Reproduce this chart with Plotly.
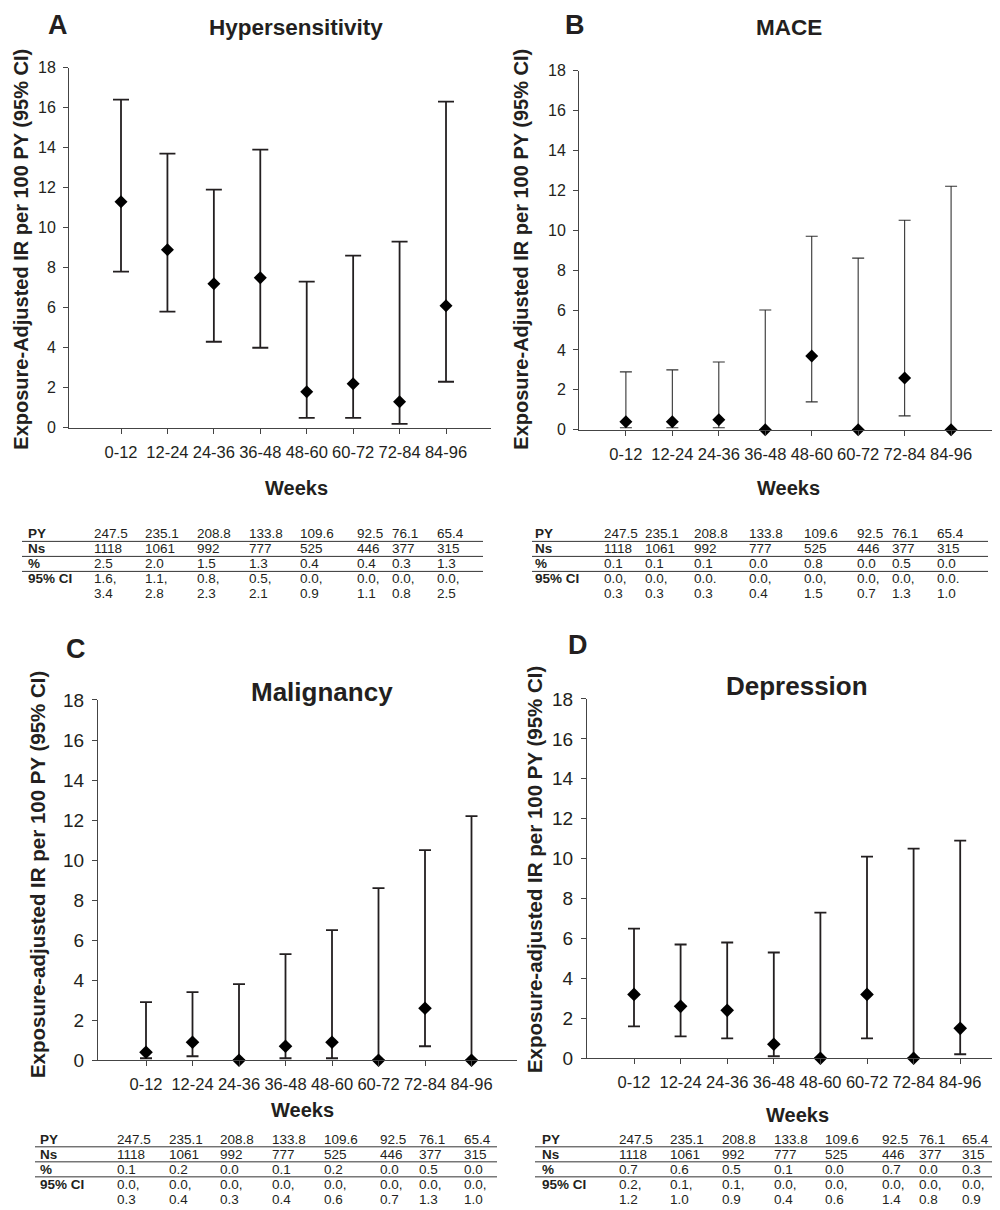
import plotly.graph_objects as go

# ---------------- data ----------------
weeks = ["0-12", "12-24", "24-36", "36-48", "48-60", "60-72", "72-84", "84-96"]

hyper_ir = [11.3, 8.9, 7.2, 7.5, 1.8, 2.2, 1.3, 6.1]
hyper_lo = [7.8, 5.8, 4.3, 4.0, 0.5, 0.5, 0.2, 2.3]
hyper_hi = [16.4, 13.7, 11.9, 13.9, 7.3, 8.6, 9.3, 16.3]

mace_ir = [0.4, 0.4, 0.5, 0.0, 3.7, 0.0, 2.6, 0.0]
mace_lo = [0.1, 0.1, 0.1, 0.0, 1.4, 0.0, 0.7, 0.0]
mace_hi = [2.9, 3.0, 3.4, 6.0, 9.7, 8.6, 10.5, 12.2]

malig_ir = [0.4, 0.9, 0.0, 0.7, 0.9, 0.0, 2.6, 0.0]
malig_lo = [0.1, 0.2, 0.0, 0.1, 0.1, 0.0, 0.7, 0.0]
malig_hi = [2.9, 3.4, 3.8, 5.3, 6.5, 8.6, 10.5, 12.2]

dep_ir = [3.2, 2.6, 2.4, 0.7, 0.0, 3.2, 0.0, 1.5]
dep_lo = [1.6, 1.1, 1.0, 0.1, 0.0, 1.0, 0.0, 0.2]
dep_hi = [6.5, 5.7, 5.8, 5.3, 7.3, 10.1, 10.5, 10.9]

y_ticks = [0, 2, 4, 6, 8, 10, 12, 14, 16, 18]

row_labels = ["PY", "Ns", "%", "95% CI"]
py_vals = ["247.5", "235.1", "208.8", "133.8", "109.6", "92.5", "76.1", "65.4"]
ns_vals = ["1118", "1061", "992", "777", "525", "446", "377", "315"]

hyper_pct = ["2.5", "2.0", "1.5", "1.3", "0.4", "0.4", "0.3", "1.3"]
hyper_ci1 = ["1.6,", "1.1,", "0.8,", "0.5,", "0.0,", "0.0,", "0.0,", "0.0,"]
hyper_ci2 = ["3.4", "2.8", "2.3", "2.1", "0.9", "1.1", "0.8", "2.5"]

mace_pct = ["0.1", "0.1", "0.1", "0.0", "0.8", "0.0", "0.5", "0.0"]
mace_ci1 = ["0.0,", "0.0,", "0.0.", "0.0,", "0.0,", "0.0,", "0.0,", "0.0."]
mace_ci2 = ["0.3", "0.3", "0.3", "0.4", "1.5", "0.7", "1.3", "1.0"]

malig_pct = ["0.1", "0.2", "0.0", "0.1", "0.2", "0.0", "0.5", "0.0"]
malig_ci1 = ["0.0,", "0.0,", "0.0,", "0.0,", "0.0,", "0.0,", "0.0,", "0.0,"]
malig_ci2 = ["0.3", "0.4", "0.3", "0.4", "0.6", "0.7", "1.3", "1.0"]

dep_pct = ["0.7", "0.6", "0.5", "0.1", "0.0", "0.7", "0.0", "0.3"]
dep_ci1 = ["0.2,", "0.1,", "0.1,", "0.0,", "0.0,", "0.0,", "0.0,", "0.0,"]
dep_ci2 = ["1.2", "1.0", "0.9", "0.4", "0.6", "1.4", "0.8", "0.9"]

# ---------------- layout helpers ----------------
OFFX = 8                     # page body margin (horizontal)
OFFY, SY = 18.5, 0.982       # observed vertical placement of the figure in the page photo
W, H = 984, 1215
FONT = "Liberation Sans, Arial, sans-serif"
INK = "#231f20"


def px(x):
    return (x - OFFX) / W


def py(y):
    return 1 - ((y - OFFY) / SY) / H


panels = [
    dict(letter="A", title="Hypersensitivity", ir=hyper_ir, lo=hyper_lo, hi=hyper_hi,
         ytitle="Exposure-Adjusted IR per 100 PY (95% CI)",
         ax_left=69, ax_right=491, y_top=68, y_bot=428, cat0=121, step=46.43,
         tickfont=16, xtickfont=16.5, titlefont=22.5, ytitlefont=20, weeksfont=20,
         letter_xy=(58, 25), title_xy=(296, 28), ytitle_xy=(21, 250), weeks_xy=(296, 488),
         eb_w=8, eb_th=1.8, eb_col=INK, msize=10,
         tbl=dict(pct=hyper_pct, ci1=hyper_ci1, ci2=hyper_ci2, lab_x=26,
                  cols=[92, 143, 195, 247, 298, 355, 390, 435], y0=534, line_x=(22, 483))),
    dict(letter="B", title="MACE", ir=mace_ir, lo=mace_lo, hi=mace_hi,
         ytitle="Exposure-Adjusted IR per 100 PY (95% CI)",
         ax_left=579, ax_right=993, y_top=71, y_bot=430, cat0=626, step=46.57,
         tickfont=16, xtickfont=16.5, titlefont=22.5, ytitlefont=20, weeksfont=20,
         letter_xy=(575, 25), title_xy=(789, 28), ytitle_xy=(521, 250), weeks_xy=(788, 488),
         eb_w=6, eb_th=1.1, eb_col="#333333", msize=10,
         tbl=dict(pct=mace_pct, ci1=mace_ci1, ci2=mace_ci2, lab_x=533,
                  cols=[602, 643, 692, 747, 802, 855, 890, 935], y0=534, line_x=(532, 988))),
    dict(letter="C", title="Malignancy", ir=malig_ir, lo=malig_lo, hi=malig_hi,
         ytitle="Exposure-adjusted IR per 100 PY (95% CI)",
         ax_left=98, ax_right=517, y_top=700, y_bot=1060, cat0=146, step=46.5,
         tickfont=19, xtickfont=16.5, titlefont=26, ytitlefont=20.5, weeksfont=20,
         letter_xy=(76, 649), title_xy=(322, 692), ytitle_xy=(37, 875), weeks_xy=(302, 1110),
         eb_w=6, eb_th=1.8, eb_col=INK, msize=10.5,
         tbl=dict(pct=malig_pct, ci1=malig_ci1, ci2=malig_ci2, lab_x=38,
                  cols=[115, 167, 218, 270, 322, 378, 417, 462], y0=1139, line_x=(35, 497))),
    dict(letter="D", title="Depression", ir=dep_ir, lo=dep_lo, hi=dep_hi,
         ytitle="Exposure-adjusted IR per 100 PY (95% CI)",
         ax_left=587, ax_right=992, y_top=699, y_bot=1058, cat0=634, step=46.6,
         tickfont=19, xtickfont=16.5, titlefont=26, ytitlefont=20.5, weeksfont=20,
         letter_xy=(578, 645), title_xy=(797, 686), ytitle_xy=(534, 870), weeks_xy=(797, 1115),
         eb_w=6, eb_th=1.8, eb_col=INK, msize=10.5,
         tbl=dict(pct=dep_pct, ci1=dep_ci1, ci2=dep_ci2, lab_x=540,
                  cols=[617, 668, 720, 772, 823, 880, 917, 960], y0=1139, line_x=(535, 992))),
]

fig = go.Figure()
annotations = []
shapes = []
layout_axes = {}

for i, p in enumerate(panels):
    n = i + 1
    xa = "x" if n == 1 else f"x{n}"
    ya = "y" if n == 1 else f"y{n}"
    xname = "xaxis" if n == 1 else f"xaxis{n}"
    yname = "yaxis" if n == 1 else f"yaxis{n}"

    xs = list(range(len(weeks)))
    plus = [h - v for h, v in zip(p["hi"], p["ir"])]
    minus = [v - l for v, l in zip(p["ir"], p["lo"])]
    fig.add_trace(go.Scatter(
        x=xs, y=p["ir"], mode="markers", xaxis=xa, yaxis=ya, showlegend=False,
        cliponaxis=False,
        marker=dict(symbol="diamond", size=p["msize"], color="black"),
        error_y=dict(type="data", symmetric=False, array=plus, arrayminus=minus,
                     color=p["eb_col"], thickness=p["eb_th"], width=p["eb_w"]),
    ))

    xr0 = (p["ax_left"] - p["cat0"]) / p["step"]
    xr1 = (p["ax_right"] - p["cat0"]) / p["step"]
    layout_axes[xname] = dict(
        domain=[px(p["ax_left"]), min(1.0, px(p["ax_right"]))], anchor=ya,
        range=[xr0, xr1], tickmode="array", tickvals=xs, ticktext=weeks,
        showline=True, linecolor="#444", linewidth=1, ticks="outside", ticklen=5,
        tickcolor="#444", showgrid=False, zeroline=False,
        tickfont=dict(family=FONT, size=p["xtickfont"], color=INK),
        ticklabelstandoff=4, fixedrange=True,
    )
    layout_axes[yname] = dict(
        domain=[py(p["y_bot"]), py(p["y_top"])], anchor=xa,
        range=[0, 18], tickmode="array", tickvals=y_ticks,
        showline=True, linecolor="#444", linewidth=1, ticks="outside", ticklen=5,
        tickcolor="#444", showgrid=False, zeroline=False,
        tickfont=dict(family=FONT, size=p["tickfont"], color=INK),
        ticklabelstandoff=4, fixedrange=True,
    )

    # panel letter, title, axis titles
    annotations.append(dict(text=f"<b>{p['letter']}</b>", x=px(p["letter_xy"][0]), y=py(p["letter_xy"][1]),
                            xref="paper", yref="paper", showarrow=False, xanchor="center", yanchor="middle",
                            font=dict(family=FONT, size=27, color=INK)))
    annotations.append(dict(text=f"<b>{p['title']}</b>", x=px(p["title_xy"][0]), y=py(p["title_xy"][1]),
                            xref="paper", yref="paper", showarrow=False, xanchor="center", yanchor="middle",
                            font=dict(family=FONT, size=p["titlefont"], color=INK)))
    annotations.append(dict(text=f"<b>{p['ytitle']}</b>", x=px(p["ytitle_xy"][0]), y=py(p["ytitle_xy"][1]),
                            xref="paper", yref="paper", showarrow=False, xanchor="center", yanchor="middle",
                            textangle=-90, font=dict(family=FONT, size=p["ytitlefont"], color=INK)))
    annotations.append(dict(text="<b>Weeks</b>", x=px(p["weeks_xy"][0]), y=py(p["weeks_xy"][1]),
                            xref="paper", yref="paper", showarrow=False, xanchor="center", yanchor="middle",
                            font=dict(family=FONT, size=p["weeksfont"], color=INK)))

    # table below panel
    t = p["tbl"]
    rows = [py_vals, ns_vals, t["pct"], t["ci1"], t["ci2"]]
    labels = row_labels + [""]
    row_h = 15
    for r, (lab, vals) in enumerate(zip(labels, rows)):
        yy = t["y0"] + r * row_h
        if lab:
            annotations.append(dict(text=f"<b>{lab}</b>", x=px(t["lab_x"]), y=py(yy), xref="paper", yref="paper",
                                    showarrow=False, xanchor="left", yanchor="middle",
                                    font=dict(family=FONT, size=13.5, color=INK)))
        for cx, v in zip(t["cols"], vals):
            annotations.append(dict(text=v, x=px(cx), y=py(yy), xref="paper", yref="paper",
                                    showarrow=False, xanchor="left", yanchor="middle",
                                    font=dict(family=FONT, size=13.5, color=INK)))
    for r in range(3):
        ly = t["y0"] + r * row_h + 7.5
        shapes.append(dict(type="line", xref="paper", yref="paper",
                           x0=px(t["line_x"][0]), x1=min(1.0, px(t["line_x"][1])), y0=py(ly), y1=py(ly),
                           line=dict(color="#333", width=1)))

fig.update_layout(
    width=W, height=H, margin=dict(l=0, r=0, t=0, b=0),
    paper_bgcolor="white", plot_bgcolor="white",
    font=dict(family=FONT, color=INK),
    annotations=annotations, shapes=shapes, showlegend=False,
    **layout_axes,
)

fig.write_html("out.html")
